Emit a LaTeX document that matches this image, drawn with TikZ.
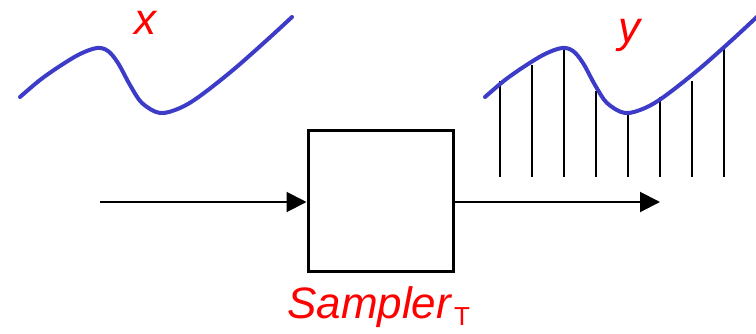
\documentclass[tikz,border=0pt]{standalone}
\usepackage{fontspec}
\setmainfont{Liberation Sans}
\usetikzlibrary{positioning,arrows.meta}
\definecolor{sigblue}{RGB}{60,60,200}
\tikzset{sampler/.style={rectangle, draw=black, line width=3pt, minimum width=145pt, minimum height=141pt, inner sep=0pt},
       sig/.style={sigblue, line width=4pt, line cap=round},
       tap/.style={black, line width=2pt},
       flow/.style={line width=2pt, -{Triangle[length=20pt,width=20pt]}},
       lbl/.style={text=red, font=\fontsize{44}{50}\selectfont\itshape, inner sep=0pt, anchor=base}}

\begin{document}
\begin{tikzpicture}[x=1pt,y=-1pt]
\useasboundingbox (0,0) rectangle (756,333);
\node [sampler] (box) at (380.5,200.5) {};
\coordinate (in) at (100,202);
\coordinate (out) at (660,202);
\draw [flow] (in) -- (box.west |- in);
\draw [flow] (box.east |- out) -- (out);
\node [lbl, anchor=base west] (name) at (287,318) {Sampler\kern3pt\raisebox{-7pt}{\upshape\fontsize{26}{28}\selectfont T}};
% input signal
\node [lbl] (xlbl) at (145,34) {x};
\draw [sig] plot [smooth, tension=0.55] coordinates {(20,97) (40,80) (60,66) (80,54) (97,48) (108,51) (118,63) (130,85) (142,103) (160,113) (180,108) (200,96) (233,70) (267,40) (292,17)};
% sampled output
\node [lbl] (ylbl) at (629,42) {y};
\foreach \xs/\ys in {500/81, 532/65, 564/49, 596/91, 628/113, 660/97, 692/81, 724/49}
  \draw [tap] (\xs,\ys) -- (\xs,177);
\draw [sig] plot [smooth, tension=0.55] coordinates {(485,97) (505,80) (525,66) (545,54) (562,48) (573,51) (583,63) (595,85) (607,103) (625,113) (645,108) (665,96) (698,70) (732,40) (760,14)};
\end{tikzpicture}
\end{document}
